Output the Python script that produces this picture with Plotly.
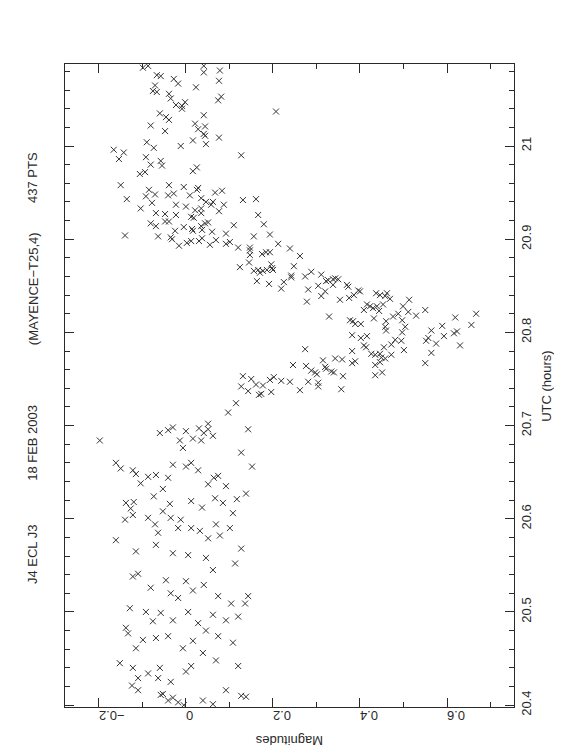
import plotly.graph_objects as go

# UTC (hours) of each measurement
utc = [
    21.084, 21.086, 21.086, 21.079, 21.081, 21.076, 21.075, 21.072, 21.067, 21.070,
    21.063, 21.065, 21.059, 21.058, 21.056, 21.051, 21.047, 21.043, 21.040, 21.044,
    21.049, 21.053, 21.035, 21.031, 21.028, 21.033, 21.022, 21.024, 21.018, 21.021,
    21.016, 21.013, 21.011, 21.002, 21.009, 21.006, 21.004, 20.998, 21.000, 20.996,
    20.993, 20.986, 20.990, 20.988, 20.980, 20.984, 20.979, 20.970, 20.972, 20.973,
    20.977, 20.958, 20.943, 20.953, 20.946, 20.948, 20.939, 20.958, 20.947, 20.949,
    20.956, 20.947, 20.955, 20.953, 20.950, 20.952, 20.944, 20.940, 20.940, 20.937,
    20.937, 20.930, 20.933, 20.928, 20.937, 20.935, 20.931, 20.933, 20.928, 20.923,
    20.924, 20.927, 20.926, 20.917, 20.914, 20.919, 20.919, 20.913, 20.911, 20.909,
    20.914, 20.917, 20.918, 20.910, 20.908, 20.915, 20.904, 20.903, 20.902, 20.900,
    20.909, 20.893, 20.896, 20.898, 20.898, 20.901, 20.894, 20.899, 20.906, 20.897,
    20.895, 20.891, 20.891, 20.942, 20.943, 21.037, 20.926, 20.916, 20.905, 20.895,
    20.890, 20.882, 20.903, 20.886,
    20.888, 20.883, 20.884, 20.886, 20.875, 20.870, 20.873, 20.869, 20.871, 20.866,
    20.867, 20.864, 20.866, 20.867, 20.867, 20.855, 20.852, 20.847, 20.854, 20.861,
    20.859, 20.860, 20.865, 20.862, 20.846, 20.833, 20.850, 20.839, 20.844, 20.855,
    20.856, 20.857, 20.858, 20.857, 20.851, 20.851, 20.849, 20.845, 20.844, 20.835,
    20.837, 20.840, 20.817, 20.830, 20.828, 20.826, 20.828, 20.824, 20.842, 20.840,
    20.839, 20.842, 20.836, 20.830, 20.823, 20.815, 20.835, 20.828, 20.817, 20.820,
    20.822, 20.818, 20.824, 20.813, 20.813, 20.812, 20.809, 20.809, 20.812, 20.806,
    20.802, 20.806, 20.800, 20.797, 20.794, 20.796, 20.786, 20.784, 20.792, 20.787,
    20.791, 20.784, 20.777, 20.776, 20.777, 20.773, 20.772, 20.776, 20.781, 20.780,
    20.769, 20.767, 20.765, 20.768, 20.754, 20.757, 20.767, 20.778, 20.791, 20.794,
    20.802, 20.788, 20.807, 20.796, 20.816, 20.799, 20.801, 20.808, 20.820, 20.786,
    20.782, 20.765, 20.770, 20.772, 20.771, 20.764, 20.759, 20.757, 20.755, 20.763,
    20.761, 20.758, 20.757, 20.753, 20.739, 20.747, 20.746, 20.742, 20.738, 20.747,
    20.748, 20.752, 20.749, 20.753, 20.750, 20.742, 20.737, 20.744, 20.743, 20.733,
    20.734, 20.736, 20.696, 20.724, 20.714,
    20.684, 20.692, 20.695, 20.684, 20.676, 20.686, 20.692, 20.702, 20.689, 20.684,
    20.697, 20.696, 20.694, 20.698, 20.671, 20.656, 20.660, 20.654, 20.652, 20.648,
    20.638, 20.645, 20.647, 20.644, 20.658, 20.656, 20.660, 20.652, 20.637, 20.644,
    20.646, 20.635, 20.621, 20.627, 20.606, 20.617, 20.618, 20.611, 20.624, 20.632,
    20.616, 20.619, 20.612, 20.622, 20.617, 20.599, 20.604, 20.601, 20.594, 20.585,
    20.608, 20.601, 20.590, 20.599, 20.590, 20.587, 20.579, 20.594, 20.582, 20.590,
    20.568, 20.552, 20.577, 20.565, 20.572, 20.563, 20.561, 20.558, 20.545, 20.541,
    20.538, 20.526, 20.534, 20.520, 20.515, 20.533, 20.523, 20.529, 20.517, 20.509,
    20.517, 20.504, 20.500, 20.490, 20.499, 20.491, 20.500, 20.488, 20.497, 20.491,
    20.495, 20.509, 20.483, 20.477, 20.470, 20.461, 20.472, 20.474, 20.461, 20.469,
    20.480, 20.474, 20.467, 20.445, 20.440, 20.429, 20.434, 20.440, 20.425, 20.436,
    20.442, 20.456, 20.448, 20.442, 20.410, 20.421, 20.416, 20.429, 20.412, 20.408,
    20.403, 20.400, 20.405, 20.401, 20.416, 20.411, 20.405, 20.409,
]

# Magnitude of each measurement
mag = [
    -0.099, -0.087, 0.041, 0.041, 0.078, -0.067, -0.058, -0.028, -0.018, 0.076,
    0.023, -0.071, -0.076, -0.067, -0.039, -0.035, -0.002, -0.009, -0.009, -0.023,
    0.074, 0.081, -0.060, -0.046, -0.039, 0.041, -0.081, 0.021, 0.028, 0.044,
    -0.048, 0.041, 0.044, 0.046, 0.076, 0.016, -0.090, -0.074, -0.012, -0.166,
    -0.143, -0.154, 0.127, -0.092, -0.081, -0.058, -0.055, -0.106, -0.094, 0.016,
    0.025, -0.150, -0.136, -0.085, -0.092, -0.071, -0.078, -0.039, -0.041, -0.028,
    -0.005, 0.009, 0.028, 0.025, 0.067, 0.083, 0.035, 0.046, 0.062, 0.058,
    0.087, 0.076, -0.104, -0.069, -0.023, 0.000, 0.021, 0.035, 0.035, 0.018,
    0.012, -0.048, -0.023, -0.081, -0.069, -0.048, -0.039, -0.005, 0.014, 0.016,
    0.035, 0.044, 0.051, 0.037, 0.060, 0.110, -0.140, -0.064, -0.035, -0.032,
    -0.025, -0.016, 0.002, 0.012, 0.030, 0.037, 0.055, 0.069, 0.092, 0.101,
    0.092, 0.120, 0.147, 0.131, 0.161, 0.207, 0.166, 0.179, 0.193, 0.212,
    0.239, 0.262, 0.156, 0.184,
    0.147, 0.147, 0.175, 0.193, 0.145, 0.124, 0.196, 0.198, 0.248, 0.156,
    0.166, 0.170, 0.177, 0.186, 0.200, 0.163, 0.191, 0.219, 0.225, 0.242,
    0.242, 0.274, 0.288, 0.311, 0.281, 0.278, 0.304, 0.311, 0.320, 0.322,
    0.327, 0.338, 0.343, 0.350, 0.338, 0.370, 0.373, 0.396, 0.400, 0.354,
    0.375, 0.386, 0.329, 0.416, 0.423, 0.430, 0.439, 0.409, 0.437, 0.446,
    0.458, 0.462, 0.469, 0.453, 0.444, 0.432, 0.513, 0.499, 0.476, 0.488,
    0.511, 0.529, 0.550, 0.497, 0.377, 0.384, 0.389, 0.402, 0.460, 0.458,
    0.460, 0.504, 0.497, 0.382, 0.402, 0.416, 0.409, 0.414, 0.481, 0.472,
    0.495, 0.455, 0.426, 0.435, 0.446, 0.449, 0.458, 0.472, 0.501, 0.382,
    0.389, 0.382, 0.435, 0.446, 0.435, 0.451, 0.550, 0.564, 0.552, 0.557,
    0.564, 0.575, 0.589, 0.593, 0.619, 0.616, 0.623, 0.656, 0.667, 0.630,
    0.274, 0.246, 0.315, 0.343, 0.359, 0.276, 0.288, 0.297, 0.301, 0.320,
    0.322, 0.334, 0.340, 0.361, 0.357, 0.281, 0.304, 0.304, 0.262, 0.239,
    0.219, 0.202, 0.193, 0.131, 0.150, 0.127, 0.143, 0.161, 0.177, 0.168,
    0.173, 0.196, 0.143, 0.115, 0.097,
    -0.198, -0.060, -0.041, -0.014, -0.007, 0.016, 0.041, 0.051, 0.062, 0.035,
    0.030, 0.051, 0.000, -0.030, 0.127, 0.152, -0.161, -0.150, -0.122, -0.115,
    -0.104, -0.087, -0.069, -0.041, -0.030, 0.000, 0.012, 0.028, 0.051, 0.064,
    0.074, 0.092, 0.117, 0.138, 0.108, -0.138, -0.120, -0.127, -0.074, -0.053,
    -0.037, 0.012, 0.037, 0.067, 0.085, -0.140, -0.122, -0.087, -0.071, -0.064,
    -0.053, -0.035, -0.018, -0.012, 0.012, 0.032, 0.051, 0.069, 0.078, 0.101,
    0.127, 0.113, -0.161, -0.115, -0.069, -0.030, 0.005, 0.046, 0.062, -0.110,
    -0.122, -0.081, -0.046, -0.035, -0.018, 0.000, 0.016, 0.041, 0.074, 0.104,
    0.143, -0.129, -0.092, -0.076, -0.058, -0.030, 0.005, 0.028, 0.062, 0.092,
    0.120, 0.136, -0.138, -0.133, -0.099, -0.115, -0.069, -0.041, -0.007, 0.016,
    0.046, 0.074, 0.108, -0.152, -0.122, -0.110, -0.087, -0.060, -0.035, 0.000,
    0.012, 0.039, 0.069, 0.120, 0.127, -0.124, -0.110, -0.064, -0.053, -0.030,
    -0.018, -0.005, 0.039, 0.062, 0.092, -0.058, -0.041, 0.138,
]

mag_ticks = [-0.2, 0.0, 0.2, 0.4, 0.6]
mag_labels = ["\u22120.2", "0", "0.2", "0.4", "0.6"]
utc_ticks = [20.4, 20.5, 20.6, 20.7, 20.8, 20.9, 21.0]
utc_labels = ["20.4", "20.5", "20.6", "20.7", "20.8", "20.9", "21"]
title_parts = ["J4 ECL J3", "18 FEB 2003", "(MAYENCE\u2212T25,4)", "437 PTS"]
title_pos = [0.238, 0.411, 0.650, 0.823]

INK = "#2a2a2a"
FONT = dict(family="Liberation Sans, Arial, sans-serif", size=13, color=INK)

fig = go.Figure()
fig.add_trace(go.Scatter(
    x=mag, y=utc, mode="markers",
    marker=dict(symbol="x-thin", size=6, line=dict(width=1, color="#333333"),
                color="#333333"),
    hoverinfo="skip", showlegend=False,
))

fig.update_layout(
    width=562, height=756,
    margin=dict(l=57, r=56, t=56, b=57),
    paper_bgcolor="white", plot_bgcolor="white",
    font=FONT,
    xaxis=dict(
        range=[-0.278, 0.754], tickvals=mag_ticks, ticktext=mag_labels,
        tickangle=180, ticks="inside", ticklen=9, tickwidth=1, tickcolor=INK,
        minor=dict(dtick=0.1, tick0=0, ticks="inside", ticklen=5, tickcolor=INK),
        showline=True, linecolor=INK, linewidth=1, mirror="allticks",
        showgrid=False, zeroline=False, tickfont=FONT,
    ),
    yaxis=dict(
        range=[20.398, 21.088], tickvals=utc_ticks, ticktext=utc_labels,
        side="right", tickangle=-90, ticks="inside", ticklen=9, tickwidth=1,
        tickcolor=INK,
        minor=dict(dtick=0.02, tick0=20.4, ticks="inside", ticklen=5, tickcolor=INK),
        showline=True, linecolor=INK, linewidth=1, mirror="allticks",
        showgrid=False, zeroline=False, tickfont=FONT,
    ),
)

for txt, yp in zip(title_parts, title_pos):
    fig.add_annotation(text=txt, xref="paper", yref="paper", x=-0.071, y=yp,
                       textangle=-90, showarrow=False, font=FONT,
                       xanchor="center", yanchor="middle")

fig.add_annotation(text="UTC (hours)", xref="paper", yref="paper", x=1.072, y=0.5,
                   textangle=-90, showarrow=False, font=FONT,
                   xanchor="center", yanchor="middle")
fig.add_annotation(text="Magnitudes", xref="paper", yref="paper", x=0.5, y=-0.053,
                   textangle=180, showarrow=False, font=FONT,
                   xanchor="center", yanchor="middle")

fig.write_html("out.html")
